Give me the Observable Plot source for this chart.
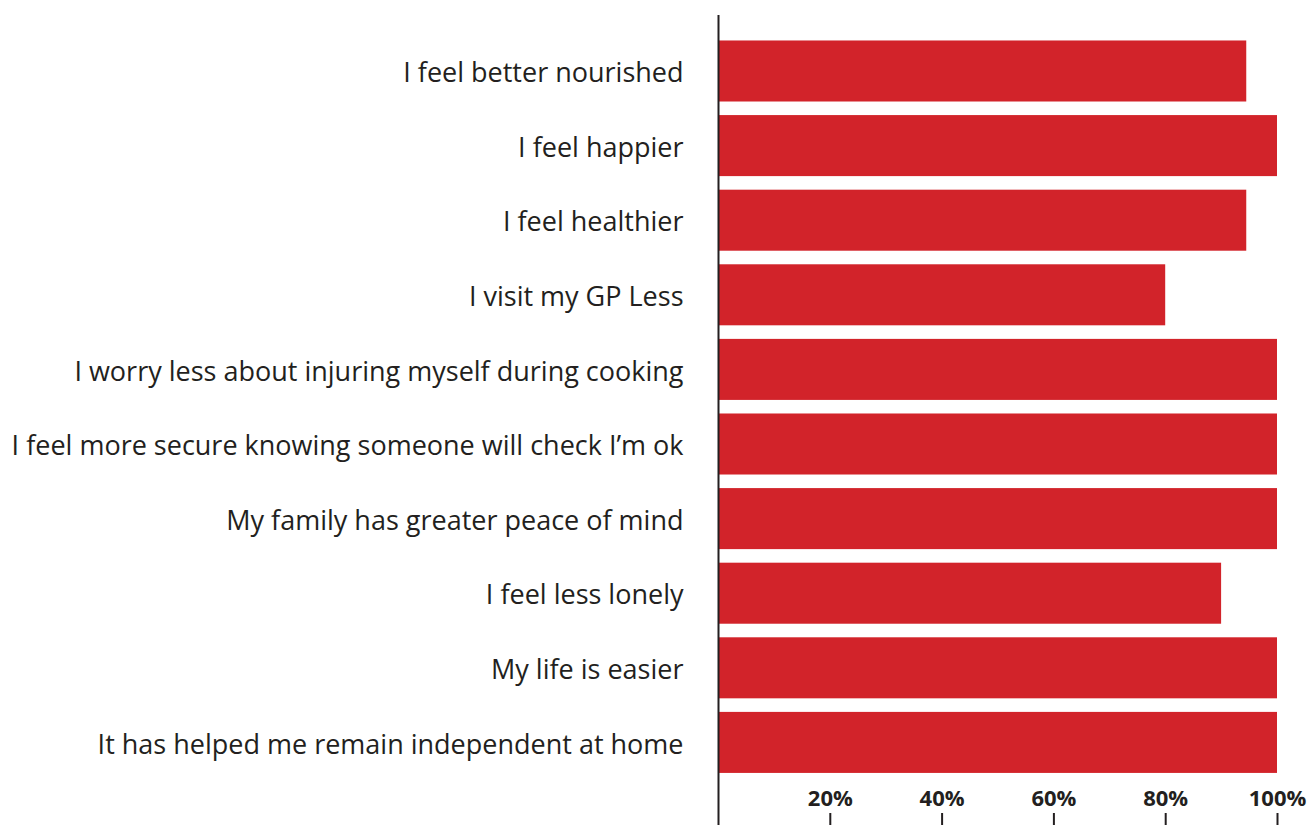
<!DOCTYPE html>
<html>
<head>
<meta charset="utf-8">
<script src="https://cdn.jsdelivr.net/npm/d3@7"></script>
<script src="https://cdn.jsdelivr.net/npm/@observablehq/plot@0.6"></script>
<style>
  html, body { margin: 0; padding: 0; background: #fff; }
  #chart svg { display: block; }
</style>
</head>
<body>
<div id="chart"></div>
<script>
const categories = [
  "I feel better nourished",
  "I feel happier",
  "I feel healthier",
  "I visit my GP Less",
  "I worry less about injuring myself during cooking",
  "I feel more secure knowing someone will check I\u2019m ok",
  "My family has greater peace of mind",
  "I feel less lonely",
  "My life is easier",
  "It has helped me remain independent at home"
];
const values = [94.5, 100, 94.5, 80, 100, 100, 100, 90, 100, 100];
const tickValues = [20, 40, 60, 80, 100];
const tickLabels = ["20%", "40%", "60%", "80%", "100%"];

const data = categories.map((c, i) => ({category: c, value: values[i]}));
const ticks = tickValues.map((v, i) => ({v, label: tickLabels[i]}));

const chart = Plot.plot({
  width: 1310,
  height: 825,
  marginLeft: 718,
  marginRight: 33,
  marginTop: 15,
  marginBottom: 10,
  style: {fontFamily: "'Open Sans', sans-serif", color: "#231f20", background: "#fff"},
  x: {domain: [0, 100], axis: null},
  y: {domain: categories, range: [26.9, 786.5], padding: 0.182, round: false, axis: null},
  marks: [
    Plot.barX(data, {x: "value", y: "category", fill: "#d2232a", insetLeft: 1}),
    Plot.axisY({tickSize: 0, tickPadding: 35, fontSize: 27, fill: "#231f20", label: null, dy: 2}),
    Plot.tickX(ticks, {x: "v", stroke: "#231f20", strokeWidth: 2, insetTop: 798, insetBottom: -10}),
    Plot.text(ticks, {x: "v", text: "label", frameAnchor: "bottom", dy: -10, fontSize: 22, fontWeight: "bold", fill: "#231f20", lineAnchor: "bottom"}),
    Plot.ruleX([0], {stroke: "#231f20", strokeWidth: 2, insetBottom: -10})
  ]
});
document.getElementById("chart").appendChild(chart);
</script>
</body>
</html>
